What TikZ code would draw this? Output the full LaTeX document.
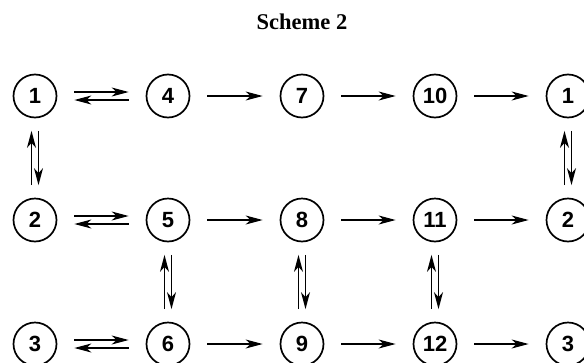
\documentclass[tikz,border=0pt]{standalone}
\usepackage{fontspec}
\setmainfont{Liberation Serif}
\newfontfamily\numfont{Liberation Sans}
\usetikzlibrary{arrows.meta}
\tikzset{
  st/.style={circle,draw,line width=1.7pt,minimum size=43pt,inner sep=0pt,font=\numfont\bfseries\fontsize{22}{22}\selectfont},
  arr/.style={line width=1.3pt,-{Stealth[length=17pt,width=9pt,inset=5pt]}},
  hz/.style={arr,shorten >=17pt,shorten <=17pt},
  vt/.style={arr,shorten >=12.5pt,shorten <=12.5pt}
}
\begin{document}
\begin{tikzpicture}[x=1pt,y=-1pt]
\useasboundingbox (0,0) rectangle (584,362);
\clip (0,0) rectangle (584,362);
\node[font=\bfseries\fontsize{22.5}{22.5}\selectfont] (title) at (302,22) {Scheme 2};
% row 1
\node[st] (a1) at (35,96) {1};
\node[st] (a4) at (168,96) {4};
\node[st] (a7) at (302,96) {7};
\node[st] (a10) at (435,96) {10};
\node[st] (a1r) at (568,96) {1};
% row 2
\node[st] (b2) at (35,220) {2};
\node[st] (b5) at (168,220) {5};
\node[st] (b8) at (302,220) {8};
\node[st] (b11) at (435,220) {11};
\node[st] (b2r) at (568,220) {2};
% row 3
\node[st] (c3) at (35,344) {3};
\node[st] (c6) at (168,344) {6};
\node[st] (c9) at (302,344) {9};
\node[st] (c12) at (435,344) {12};
\node[st] (c3r) at (568,344) {3};
% equilibria horizontal
\foreach \p/\q in {a1/a4,b2/b5,c3/c6}{
  \draw[hz] ([yshift=4pt]\p.east) -- ([yshift=4pt]\q.west);
  \draw[hz] ([yshift=-4pt]\q.west) -- ([yshift=-4pt]\p.east);
}
% single horizontal
\foreach \p/\q in {a4/a7,a7/a10,a10/a1r,b5/b8,b8/b11,b11/b2r,c6/c9,c9/c12,c12/c3r}{
  \draw[hz] (\p.east) -- (\q.west);
}
% vertical equilibria: up on left, down on right
\foreach \p/\q in {a1/b2,a1r/b2r,b5/c6,b8/c9,b11/c12}{
  \draw[vt] ([xshift=-3.5pt]\q.north) -- ([xshift=-3.5pt]\p.south);
  \draw[vt] ([xshift=3.5pt]\p.south) -- ([xshift=3.5pt]\q.north);
}
\end{tikzpicture}
\end{document}
